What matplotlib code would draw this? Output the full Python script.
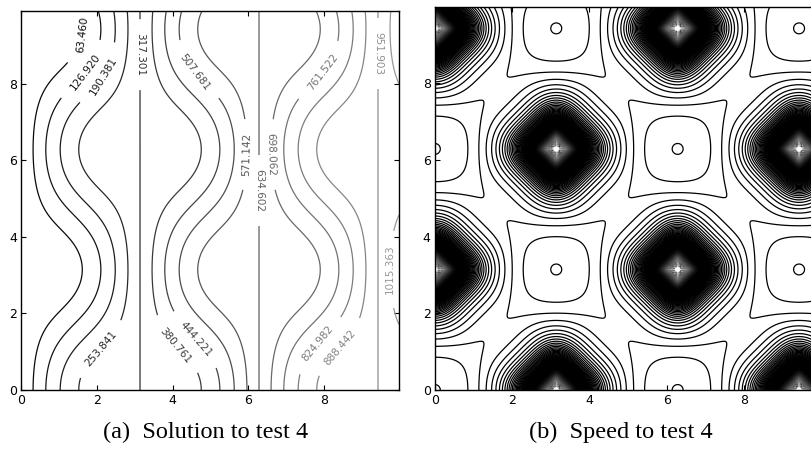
import numpy as np
import matplotlib
matplotlib.use("Agg")
import matplotlib.pyplot as plt
from matplotlib.colors import Normalize

# test 4: u(x, y) = a*x + b*sin(x)*cos(y) on [0, 9.98] x [0, 9.98]
slope_a = 101.0
wave_b = 100.0
x_max = 9.98
y_max_left = 9.9
y_max_right = 9.98

# contour levels of the solution and where their labels sit
u_levels = [63.460, 126.920, 190.381, 253.841, 317.301, 380.761, 444.221, 507.681,
            571.142, 634.602, 698.062, 761.522, 824.982, 888.442, 951.903, 1015.363]
u_label_pos = [(1.56, 9.3), (1.64, 8.36), (2.14, 8.23), (2.09, 1.08),
               (3.14, 8.76), (4.07, 1.16), (4.64, 1.35), (4.65, 8.36),
               (5.96, 6.15), (6.26, 5.21), (6.62, 6.15), (7.94, 8.31),
               (7.81, 1.22), (8.42, 1.12), (9.43, 8.79), (9.85, 3.15)]

# speed = 1/|grad u|, contoured every 0.001
speed_first = 0.005
speed_last = 0.8
speed_step = 0.001

ticks = [0, 2, 4, 6, 8]

plt.rcParams.update({
    'xtick.direction': 'in', 'ytick.direction': 'in',
    'xtick.top': True, 'ytick.right': True,
    'xtick.major.size': 3.5, 'ytick.major.size': 3.5,
    'xtick.major.pad': 3, 'ytick.major.pad': 3,
    'xtick.labelsize': 9, 'ytick.labelsize': 9,
    'axes.linewidth': 1.0,
})

fig = plt.figure(figsize=(8.12, 4.5), dpi=100)
ax1 = fig.add_axes([0.0259, 0.1333, 0.4655, 0.8422])
ax2 = fig.add_axes([0.5355, 0.1333, 0.4750, 0.8510])

# solution
x = np.linspace(0, x_max, 500)
y = np.linspace(0, y_max_left, 500)
X, Y = np.meshgrid(x, y)
U = slope_a * X + wave_b * np.sin(X) * np.cos(Y)

cs = ax1.contour(X, Y, U, levels=u_levels, cmap='gray',
                 norm=Normalize(0, 1700), linewidths=0.9)
ax1.clabel(cs, fmt='%.3f', fontsize=7.5, inline=True, inline_spacing=14,
           manual=u_label_pos)
ax1.set_xlim(0, x_max)
ax1.set_ylim(0, y_max_left)

# speed
x2 = np.linspace(0, x_max, 600)
y2 = np.linspace(0, y_max_right, 600)
X2, Y2 = np.meshgrid(x2, y2)
ux = slope_a + wave_b * np.cos(X2) * np.cos(Y2)
uy = -wave_b * np.sin(X2) * np.sin(Y2)
F = 1.0 / np.sqrt(ux ** 2 + uy ** 2)

speed_levels = np.arange(speed_first, speed_last, speed_step)
# very thin lines near the peaks so they fade to white
lw = np.clip(0.00025 * speed_levels ** -2.7, 0.0, 0.9)
ax2.contour(X2, Y2, F, levels=speed_levels, colors='k', linewidths=lw)
ax2.set_xlim(0, x_max)
ax2.set_ylim(0, y_max_right)

for ax in (ax1, ax2):
    ax.set_xticks(ticks)
    ax.set_yticks(ticks)

fig.text(0.253, 0.038, '(a)  Solution to test 4', ha='center', va='center',
         family='Liberation Serif', fontsize=17.5)
fig.text(0.764, 0.038, '(b)  Speed to test 4', ha='center', va='center',
         family='Liberation Serif', fontsize=17.5)

fig.savefig('out.png', dpi=100)
